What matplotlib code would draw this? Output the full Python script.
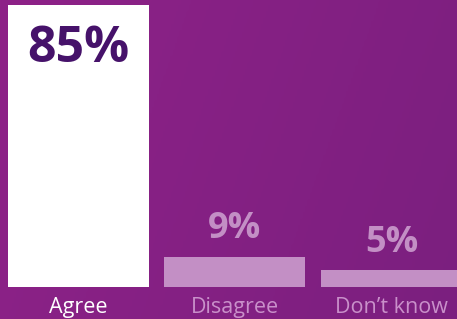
import numpy as np
import matplotlib.pyplot as plt
from matplotlib.colors import LinearSegmentedColormap

categories = ["Agree", "Disagree", "Don\u2019t know"]
values = [85, 9, 5]
value_labels = ["85%", "9%", "5%"]

BG_LEFT = "#8E2288"
BG_RIGHT = "#7B1F7F"
LILAC = "#C38FC5"
DARK = "#46126A"

plt.rcParams["font.family"] = ["Open Sans", "DejaVu Sans"]

fig = plt.figure(figsize=(4.57, 3.19), dpi=100)
ax = fig.add_axes([0, 0, 1, 1])

x = np.arange(len(categories))
xlim = (-0.501, 2.419)
ylim = (-9.64, 86.45)

# diagonal background gradient
gx, gy = np.meshgrid(np.linspace(0, 1, 200), np.linspace(0, 1, 200))
grad = 0.8 * gx + 0.2 * (1 - gy)
cmap = LinearSegmentedColormap.from_list("bg", [BG_LEFT, BG_RIGHT])
ax.imshow(grad, cmap=cmap, extent=[*xlim, *ylim], aspect="auto", origin="lower", zorder=0)

colors = ["white", LILAC, LILAC]
ax.bar(x, values, width=0.9, color=colors, zorder=2)

# value labels
ax.annotate(value_labels[0], (x[0], values[0]), xytext=(0, -41.5), textcoords="offset points",
            ha="center", va="baseline", fontsize=36, fontweight="bold", color=DARK, zorder=3)
for i in (1, 2):
    ax.annotate(value_labels[i], (x[i], values[i]), xytext=(0, 13.5), textcoords="offset points",
                ha="center", va="baseline", fontsize=26, fontweight="bold", color=LILAC, zorder=3)

label_colors = ["white", "#C990CA", "#C990CA"]
for i, cat in enumerate(categories):
    ax.text(x[i], -7.8, cat, ha="center", va="baseline", fontsize=15.5,
            color=label_colors[i], zorder=3)

ax.set_xlim(*xlim)
ax.set_ylim(*ylim)
ax.axis("off")

fig.savefig("out.png", dpi=100)
